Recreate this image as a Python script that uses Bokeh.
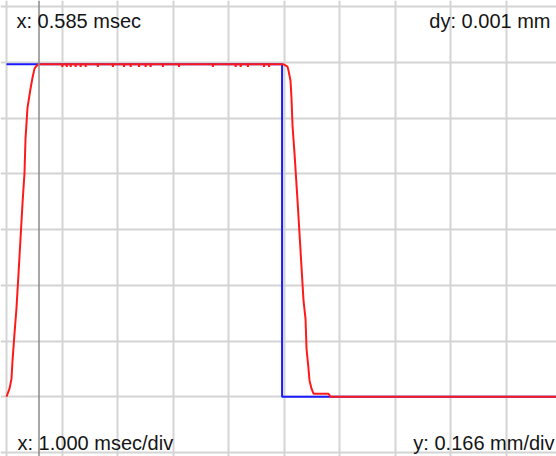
from bokeh.plotting import figure
from bokeh.models import FixedTicker, Span, Label
from bokeh.embed import file_html
from bokeh.resources import INLINE

# ---- data (time in msec, displacement in mm) ----
x_ticks = [0, 1, 2, 3, 4, 5, 6, 7, 8, 9, 10]
y_ticks = [-0.166, 0.0, 0.166, 0.332, 0.498, 0.664, 0.830, 0.996, 1.162]

blue_t = [0.0, 4.96, 4.96, 10.0]
blue_y = [0.99, 0.99, 0.0, 0.0]

red_t = [0.0, 0.054, 0.09, 0.108, 0.144, 0.18, 0.216, 0.252, 0.288, 0.324, 0.342,
         0.378, 0.432, 0.468, 0.504, 0.54, 0.576, 0.85,
         1.00, 1.005, 1.01, 1.08, 1.085, 1.09, 1.15, 1.155, 1.16, 1.24, 1.245, 1.25,
         1.33, 1.335, 1.34, 1.42, 1.425, 1.43, 1.64, 1.645, 1.65, 1.91, 1.915, 1.92,
         2.11, 2.115, 2.12, 2.23, 2.235, 2.24, 2.38, 2.385, 2.39, 2.50, 2.505, 2.51,
         2.59, 2.595, 2.60, 2.81, 2.815, 2.82, 3.10, 3.105, 3.11, 3.71, 3.715, 3.72,
         4.12, 4.125, 4.13, 4.21, 4.215, 4.22, 4.34, 4.345, 4.35, 4.63, 4.635, 4.64,
         4.72, 4.725, 4.73,
         4.986, 5.058, 5.076, 5.112, 5.13, 5.148, 5.184, 5.238, 5.292, 5.346, 5.382,
         5.40, 5.436, 5.454, 5.49, 5.526, 5.796, 5.83, 10.0]
red_y = [0.0, 0.024, 0.054, 0.107, 0.188, 0.265, 0.366, 0.470, 0.575, 0.667, 0.768,
         0.861, 0.917, 0.950, 0.977, 0.985, 0.99, 0.99,
         0.99, 0.982, 0.99, 0.99, 0.982, 0.99, 0.99, 0.982, 0.99, 0.99, 0.982, 0.99,
         0.99, 0.982, 0.99, 0.99, 0.982, 0.99, 0.99, 0.982, 0.99, 0.99, 0.982, 0.99,
         0.99, 0.982, 0.99, 0.99, 0.982, 0.99, 0.99, 0.982, 0.99, 0.99, 0.982, 0.99,
         0.99, 0.982, 0.99, 0.99, 0.982, 0.99, 0.99, 0.982, 0.99, 0.99, 0.982, 0.99,
         0.99, 0.982, 0.99, 0.99, 0.982, 0.99, 0.99, 0.982, 0.99, 0.99, 0.982, 0.99,
         0.99, 0.982, 0.99,
         0.99, 0.983, 0.971, 0.941, 0.887, 0.807, 0.724, 0.584, 0.435, 0.286, 0.232,
         0.143, 0.083, 0.048, 0.024, 0.009, 0.009, 0.0, 0.0]

cursor_x = 0.585
label_tl = "x: 0.585 msec"
label_tr = "dy: 0.001 mm"
label_bl = "x: 1.000 msec/div"
label_br = "y: 0.166 mm/div"

W, H = 556, 456
px_per_ms = 55.56
mm_per_px = 0.166 / 55.75
x0 = -6 / px_per_ms
y1 = 1.162 + 6 * mm_per_px

p = figure(width=W, height=H, output_backend="svg", toolbar_location=None,
           x_range=(x0, x0 + W / px_per_ms), y_range=(y1 - H * mm_per_px, y1),
           min_border=0, background_fill_color="white", border_fill_color="white")
p.axis.visible = False
p.outline_line_color = None
p.xgrid.ticker = FixedTicker(ticks=x_ticks)
p.ygrid.ticker = FixedTicker(ticks=y_ticks)
for g in (p.xgrid, p.ygrid):
    g.grid_line_color = "#d4d4d4"
    g.grid_line_width = 2

p.add_layout(Span(location=cursor_x, dimension="height", line_color="#8a8a8a", line_width=1.5))

p.line(blue_t, blue_y, line_color="#1a1aff", line_width=2)
p.line(red_t, red_y, line_color="#ff1a1a", line_width=2)

font = "Liberation Sans"
common = dict(x_units="screen", y_units="screen", text_font=font, text_font_size="20px",
              text_color="#151515", text_baseline="alphabetic")
p.add_layout(Label(x=16, y=H - 20, text=label_tl, text_align="left", **common))
p.add_layout(Label(x=550, y=H - 20, text=label_tr, text_align="right", **common))
p.add_layout(Label(x=17, y=H - 442, text=label_bl, text_align="left", **common))
p.add_layout(Label(x=554, y=H - 442, text=label_br, text_align="right", **common))

open("out.html", "w").write(file_html(p, INLINE))
